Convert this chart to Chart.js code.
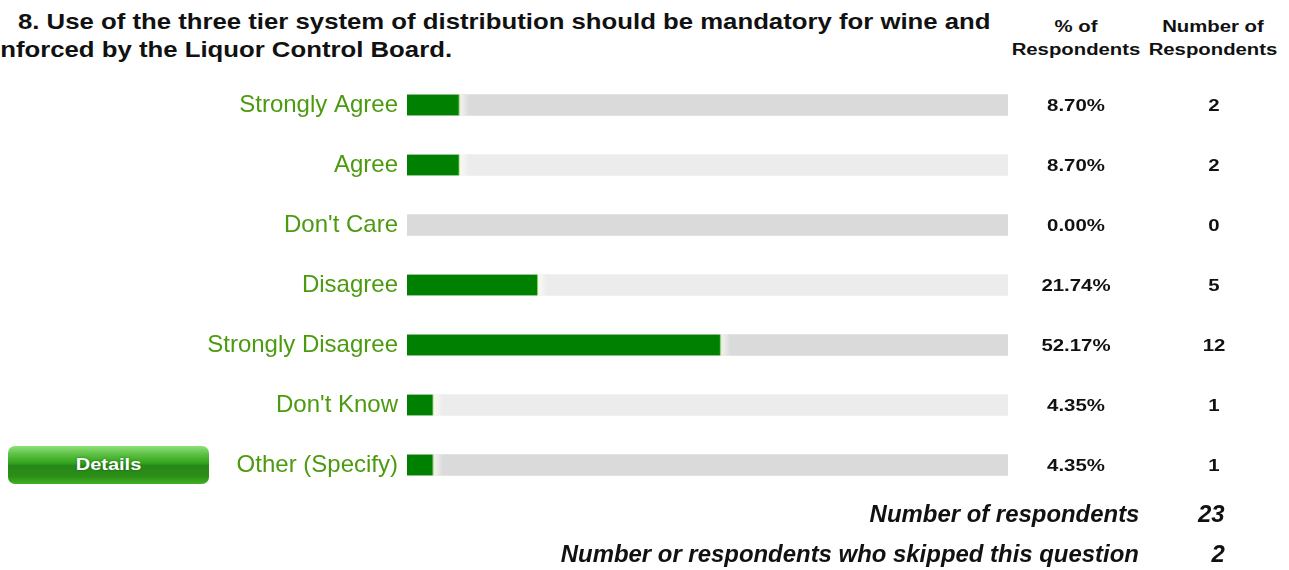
<!DOCTYPE html>
<html>
<head>
<meta charset="utf-8">
<script src="https://cdn.jsdelivr.net/npm/chart.js@4.4.1/dist/chart.umd.min.js"></script>
<style>
  html, body { margin: 0; padding: 0; background: #fff; overflow: hidden; }
  body { width: 1289px; height: 570px; position: relative; font-family: "Liberation Sans", Arial, sans-serif; }
  #wrap { position: absolute; left: 0; top: 0; width: 1289px; height: 570px; }
  .title { position: absolute; font-weight: bold; font-size: 22px; color: #111; white-space: nowrap; transform: scaleX(1.17); transform-origin: 0 0; }
  .head { position: absolute; top: 15px; width: 140px; text-align: center; font-weight: bold; font-size: 16px; line-height: 23px; color: #111; transform: scaleX(1.27); }
  .foot { position: absolute; font-weight: bold; font-style: italic; font-size: 23px; color: #111; white-space: nowrap; transform: scaleX(1.04); transform-origin: 100% 0; }
  #details {
    position: absolute; left: 8px; top: 446px; width: 201px; height: 38px; border-radius: 7px;
    background: linear-gradient(#8ee07a 0%, #5cc043 22%, #33a51c 45%, #27871a 52%, #2c8f16 80%, #40b023 100%);
  }
  #details span {
    display: block; color: #fff; font-weight: bold; font-size: 16px; line-height: 38px; text-align: center;
    text-shadow: 0 0 2px rgba(0,60,0,0.6); transform: scaleX(1.25);
  }
</style>
</head>
<body>
<div class="title" style="left:18px; top:9px;">8. Use of the three tier system of distribution should be mandatory for wine and</div>
<div class="title" style="left:-17px; top:37px;">Enforced by the Liquor Control Board.</div>
<div class="head" style="left:1006px;">% of<br>Respondents</div>
<div class="head" style="left:1143px;">Number of<br>Respondents</div>
<div id="details"><span>Details</span></div>
<div id="wrap"><canvas id="grafico"></canvas></div>
<div class="foot" style="right:150px; top:501px;">Number of respondents</div>
<div class="foot" style="right:64px; top:501px;">23</div>
<div class="foot" style="right:64px; top:541px;">2</div>
<div class="foot" style="right:150px; top:541px;">Number or respondents who skipped this question</div>
<script>
const categorias = ['Strongly Agree', 'Agree', "Don't Care", 'Disagree', 'Strongly Disagree', "Don't Know", 'Other (Specify)'];
const percentuais = [8.70, 8.70, 0.00, 21.74, 52.17, 4.35, 4.35];
const respostas = [2, 2, 0, 5, 12, 1, 1];
const trilho = [100, 100, 100, 100, 100, 100, 100];

const corTrilho = categorias.map((c, i) => i % 2 === 0 ? '#dadada' : '#ececec');

// brilho claro logo depois do fim de cada barra verde
const brilho = {
    id: 'brilho',
    afterDatasetsDraw(chart) {
        const ctx = chart.ctx;
        const meta = chart.getDatasetMeta(0);
        ctx.save();
        meta.data.forEach((bar, i) => {
            if (!percentuais[i]) return;
            const h = bar.height;
            const g = ctx.createLinearGradient(bar.x, 0, bar.x + 10, 0);
            g.addColorStop(0, 'rgba(255,255,240,0.75)');
            g.addColorStop(1, 'rgba(255,255,255,0)');
            ctx.fillStyle = g;
            ctx.fillRect(bar.x + 1, bar.y - h / 2, 10, h);
        });
        ctx.restore();
    }
};

// desenha as colunas de % e numero de respostas alinhadas com cada barra
const colunas = {
    id: 'colunas',
    afterDraw(chart) {
        const ctx = chart.ctx;
        const y = chart.scales.y;
        ctx.save();
        ctx.fillStyle = '#111';
        ctx.font = 'bold 17px "Liberation Sans", Arial, sans-serif';
        ctx.textAlign = 'center';
        ctx.textBaseline = 'middle';
        const texto = (t, x, py) => {
            ctx.save();
            ctx.translate(x, py);
            ctx.scale(1.2, 1);
            ctx.fillText(t, 0, 0);
            ctx.restore();
        };
        categorias.forEach((c, i) => {
            const py = y.getPixelForValue(i) + 1;
            texto(percentuais[i].toFixed(2) + '%', 1076, py);
            texto(String(respostas[i]), 1214, py);
        });
        ctx.restore();
    }
};

const ctx = document.getElementById('grafico').getContext('2d');
new Chart(ctx, {
    type: 'bar',
    data: {
        labels: categorias,
        datasets: [{
            data: percentuais,
            // barra de valor zero fica invisivel
            backgroundColor: c => percentuais[c.dataIndex] > 0 ? '#008000' : 'rgba(0,0,0,0)',
            borderColor: '#7ed35f',
            borderWidth: c => percentuais[c.dataIndex] > 0 ? { right: 1, left: 0, top: 0, bottom: 0 } : 0,
            borderSkipped: false,
            barThickness: 21,
            grouped: false,
            order: 0
        }, {
            data: trilho,
            backgroundColor: corTrilho,
            barThickness: 21,
            grouped: false,
            order: 1
        }]
    },
    options: {
        indexAxis: 'y',
        responsive: true,
        maintainAspectRatio: false,
        animation: false,
        layout: { padding: { top: 75, bottom: 75, left: 0, right: 281 } },
        plugins: { legend: { display: false }, tooltip: { enabled: false } },
        scales: {
            x: { display: false, min: 0, max: 100 },
            y: {
                grid: { display: false, drawTicks: false },
                border: { display: false },
                ticks: {
                    color: '#4c9a10',
                    padding: 9,
                    font: { family: '"Liberation Sans", Arial, sans-serif', size: 24 }
                },
                afterFit(scale) { scale.width = 407; }
            }
        }
    },
    plugins: [brilho, colunas]
});
</script>
</body>
</html>
